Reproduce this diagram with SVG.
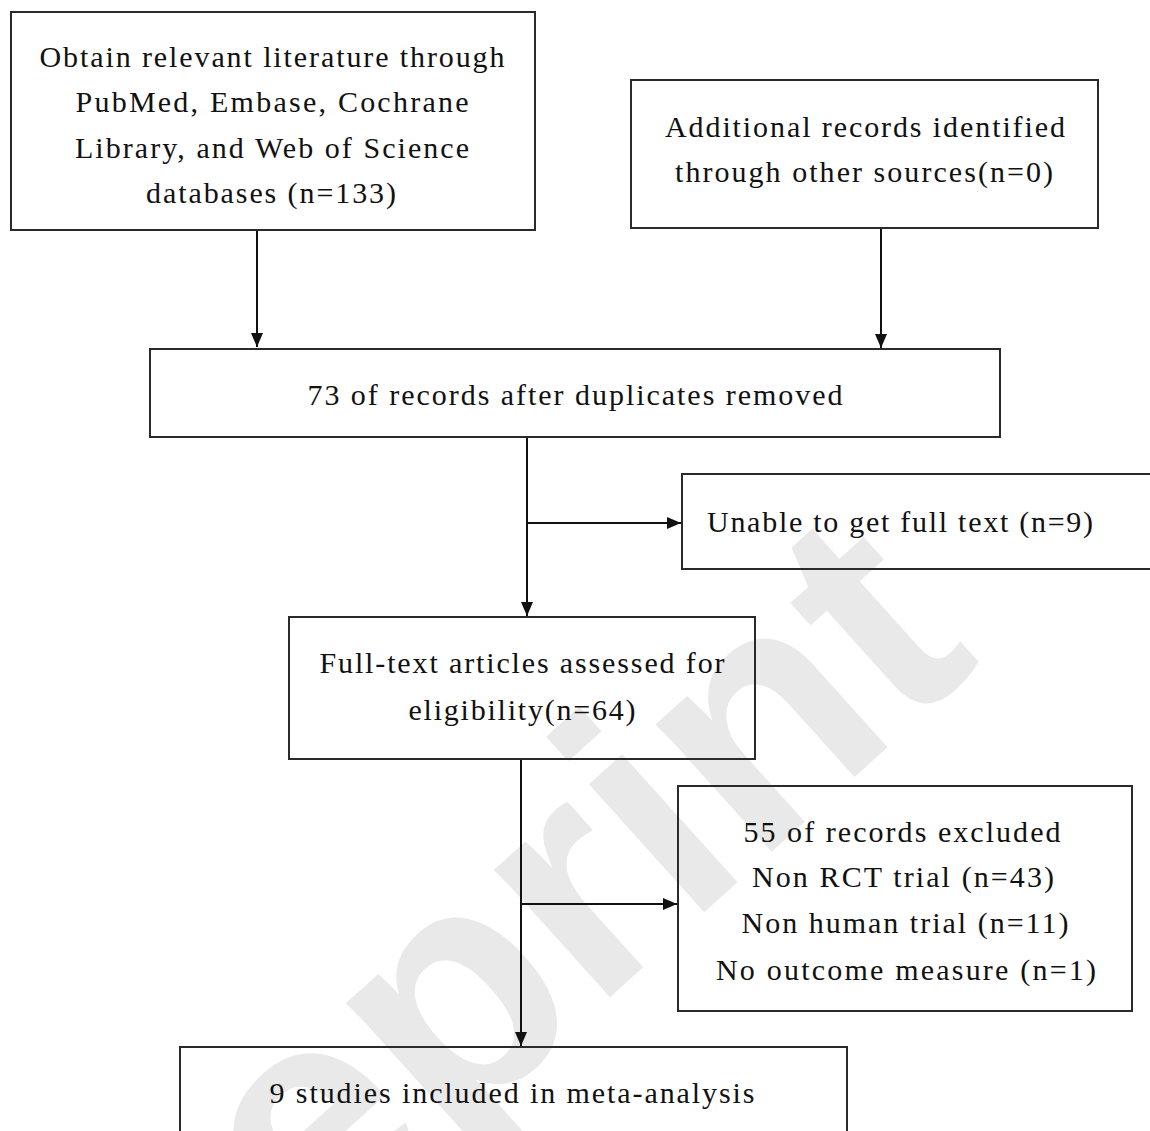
<svg xmlns="http://www.w3.org/2000/svg" width="1150" height="1131" viewBox="0 0 1150 1131">
<style>
.box{fill:none;stroke:#2a2a2a;stroke-width:2}
text.t{font-family:'Liberation Serif',serif;font-size:30px;fill:#111;text-anchor:middle}
text.tl{font-family:'Liberation Serif',serif;font-size:30px;fill:#111}
.ln{fill:none;stroke:#111;stroke-width:2}
text.wm{font-family:'Liberation Sans',sans-serif;font-weight:bold;font-size:326px;fill:#e9e9e9;text-anchor:middle}
</style>
<defs>
<marker id="ah" viewBox="0 0 14 12" refX="14" refY="6" markerWidth="14" markerHeight="12" markerUnits="userSpaceOnUse" orient="auto">
<path d="M0,0 L14,6 L0,12 Z" fill="#111"/>
</marker>
</defs>
<rect width="1150" height="1131" fill="#fff"/>
<text class="wm" transform="translate(462,1016) rotate(-42)" y="85">Preprint</text>

<g id="connectors">
<line class="ln" x1="257" y1="231" x2="257" y2="347" marker-end="url(#ah)"/>
<line class="ln" x1="881" y1="229" x2="881" y2="348" marker-end="url(#ah)"/>
<line class="ln" x1="527" y1="438" x2="527" y2="616" marker-end="url(#ah)"/>
<line class="ln" x1="527" y1="523" x2="681" y2="523" marker-end="url(#ah)"/>
<line class="ln" x1="521" y1="760" x2="521" y2="1046" marker-end="url(#ah)"/>
<line class="ln" x1="521" y1="904" x2="677" y2="904" marker-end="url(#ah)"/>
</g>

<g id="n1">
<rect class="box" x="11" y="12" width="524" height="218"/>
<text class="t" x="272" y="67" textLength="465" lengthAdjust="spacing">Obtain relevant literature through</text>
<text class="t" x="272" y="112" textLength="393" lengthAdjust="spacing">PubMed, Embase, Cochrane</text>
<text class="t" x="272" y="158" textLength="394" lengthAdjust="spacing">Library, and Web of Science</text>
<text class="t" x="271" y="203" textLength="250" lengthAdjust="spacing">databases (n=133)</text>
</g>

<g id="n2">
<rect class="box" x="631" y="80" width="467" height="148"/>
<text class="t" x="865" y="137" textLength="400" lengthAdjust="spacing">Additional records identified</text>
<text class="t" x="864" y="182" textLength="378" lengthAdjust="spacing">through other sources(n=0)</text>
</g>

<g id="n3">
<rect class="box" x="150" y="349" width="850" height="88"/>
<text class="t" x="575" y="405" textLength="535" lengthAdjust="spacing">73 of records after duplicates removed</text>
</g>

<g id="n4">
<rect class="box" x="682" y="474" width="480" height="95"/>
<text class="tl" x="707" y="532" textLength="386" lengthAdjust="spacing">Unable to get full text (n=9)</text>
</g>

<g id="n5">
<rect class="box" x="289" y="617" width="466" height="142"/>
<text class="t" x="522" y="673" textLength="405" lengthAdjust="spacing">Full-text articles assessed for</text>
<text class="t" x="522" y="720" textLength="227" lengthAdjust="spacing">eligibility(n=64)</text>
</g>

<g id="n6">
<rect class="box" x="678" y="786" width="454" height="225"/>
<text class="t" x="902" y="842" textLength="317" lengthAdjust="spacing">55 of records excluded</text>
<text class="t" x="903" y="887" textLength="302" lengthAdjust="spacing">Non RCT trial (n=43)</text>
<text class="t" x="905" y="933" textLength="327" lengthAdjust="spacing">Non human trial (n=11)</text>
<text class="t" x="906" y="980" textLength="380" lengthAdjust="spacing">No outcome measure (n=1)</text>
</g>

<g id="n7">
<rect class="box" x="180" y="1047" width="667" height="120"/>
<text class="t" x="512" y="1103" textLength="485" lengthAdjust="spacing">9 studies included in meta-analysis</text>
</g>
</svg>
